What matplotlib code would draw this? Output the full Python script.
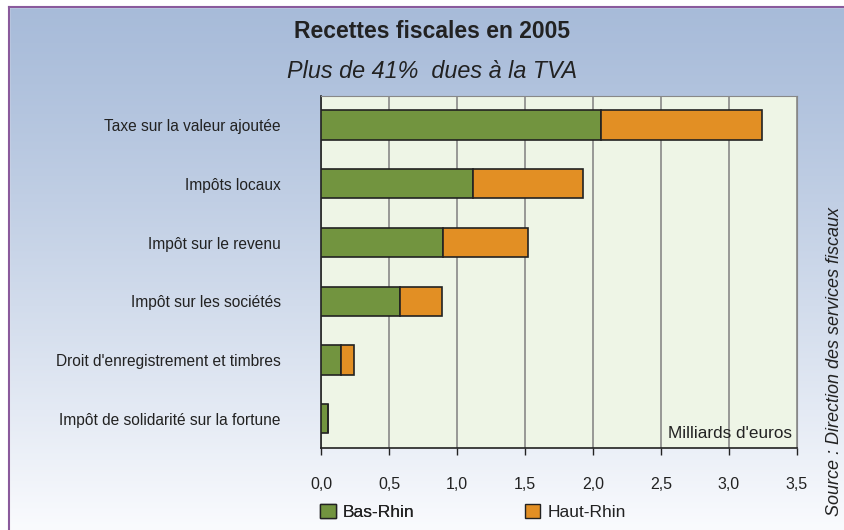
import numpy as np
import matplotlib.pyplot as plt
from matplotlib.patches import Patch, Rectangle

plt.rcParams["font.family"] = ["Liberation Sans", "DejaVu Sans"]

categories = ["Taxe sur la valeur ajoutée", "Impôts locaux", "Impôt sur le revenu",
              "Impôt sur les sociétés", "Droit d'enregistrement et timbres",
              "Impôt de solidarité sur la fortune"]
bas_rhin = [2.06, 1.12, 0.90, 0.58, 0.15, 0.05]
haut_rhin = [1.18, 0.81, 0.62, 0.31, 0.09, 0.0]
xticks = [0, 0.5, 1.0, 1.5, 2.0, 2.5, 3.0, 3.5]

green = "#72943f"
orange = "#e28f24"
txt = "#222222"

fig = plt.figure(figsize=(8.44, 5.30), dpi=100)

# background gradient + frame
bg = fig.add_axes([0, 0, 1, 1], zorder=-10)
grad = np.linspace(0, 1, 256).reshape(-1, 1)
c_top = np.array([0.655, 0.733, 0.851])
c_bot = np.array([0.980, 0.984, 0.995])
img = c_top + (c_bot - c_top) * grad[:, :, None] ** 1.2
bg.imshow(img, aspect="auto", extent=[0, 1, 0, 1], origin="upper")
bg.set_xlim(0, 1)
bg.set_ylim(0, 1)
bg.add_patch(Rectangle((0, 0), 0.0107, 1, color="white", zorder=2))
bg.add_patch(Rectangle((0, 0.987), 1, 0.013, color="white", zorder=2))
bg.plot([0.0107, 0.0107], [0, 0.987], color="#8a5a9c", lw=1.5, zorder=3)
bg.plot([0.0107, 1], [0.987, 0.987], color="#8a5a9c", lw=1.5, zorder=3)
bg.axis("off")

ax = fig.add_axes([0.3803, 0.1547, 0.5640, 0.6647])
ax.set_facecolor("#eef5e6")
y = np.arange(len(categories))
ax.barh(y, bas_rhin, height=0.5, color=green, edgecolor=txt, linewidth=1.2, zorder=3)
ax.barh(y, haut_rhin, left=bas_rhin, height=0.5, color=orange, edgecolor=txt,
        linewidth=1.2, zorder=3)
ax.set_ylim(len(categories) - 0.5, -0.5)
ax.set_xlim(0, 3.5)
ax.set_xticks(xticks)
ax.set_xticklabels([f"{v:.1f}".replace(".", ",") for v in xticks], fontsize=11.5, color=txt)
ax.set_yticks(y)
ax.set_yticklabels(categories, fontsize=11.2, color=txt)
ax.tick_params(axis="y", length=0, pad=29)
ax.tick_params(axis="x", length=5, width=1, color=txt, pad=16, direction="out")
ax.grid(axis="x", color="#888888", lw=1.2, zorder=1)
for s in ["top", "right"]:
    ax.spines[s].set_color("#888888")
for s in ["left", "bottom"]:
    ax.spines[s].set_color(txt)
    ax.spines[s].set_linewidth(1.2)
ax.text(0.99, 0.02, "Milliards d'euros", transform=ax.transAxes, ha="right", va="bottom",
        fontsize=12.3, color=txt)

fig.text(0.512, 0.940, "Recettes fiscales en 2005", ha="center", va="center",
         fontsize=16.5, fontweight="bold", color=txt)
fig.text(0.512, 0.865, "Plus de 41%  dues à la TVA", ha="center", va="center",
         fontsize=16.8, style="italic", color=txt)
fig.text(0.989, 0.317, "Source : Direction des services fiscaux", rotation=90,
         ha="center", va="center", fontsize=13, style="italic", color=txt)

leg1 = fig.legend(handles=[Patch(facecolor=green, edgecolor=txt, label="Bas-Rhin")],
                  loc="center left", bbox_to_anchor=(0.361, 0.034), frameon=False,
                  fontsize=12.5, handlelength=0.9, handleheight=0.9, handletextpad=0.4,
                  labelcolor=txt)
fig.add_artist(leg1)
fig.legend(handles=[Patch(facecolor=orange, edgecolor=txt, label="Haut-Rhin")],
           loc="center left", bbox_to_anchor=(0.603, 0.034), frameon=False,
           fontsize=12.5, handlelength=0.9, handleheight=0.9, handletextpad=0.4,
           labelcolor=txt)

fig.savefig("out.png", dpi=100)
